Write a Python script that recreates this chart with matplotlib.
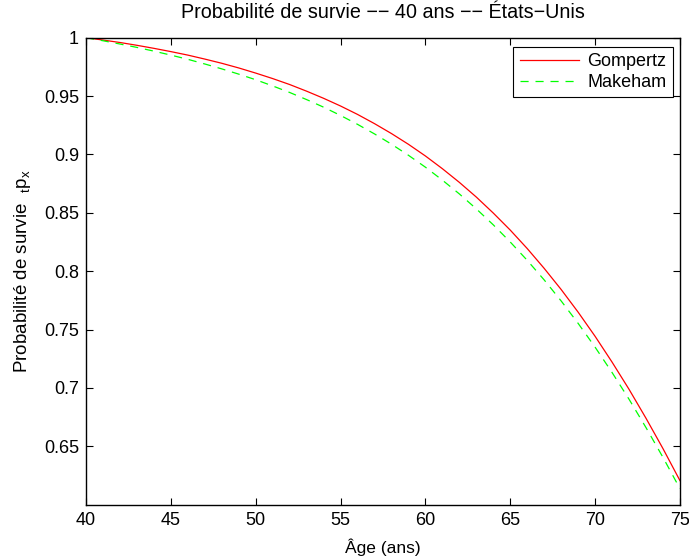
import matplotlib
matplotlib.use("Agg")
import matplotlib.pyplot as plt

ages = list(range(40, 76))
gompertz = [1.0000, 0.9980, 0.9959, 0.9935, 0.9909, 0.9881, 0.9851, 0.9817, 0.9781, 0.9741,
            0.9697, 0.9650, 0.9599, 0.9542, 0.9481, 0.9415, 0.9343, 0.9264, 0.9179, 0.9087,
            0.8987, 0.8878, 0.8761, 0.8635, 0.8498, 0.8352, 0.8194, 0.8024, 0.7843, 0.7649,
            0.7442, 0.7221, 0.6988, 0.6740, 0.6480, 0.6206]
makeham = [1.0000, 0.9974, 0.9946, 0.9917, 0.9885, 0.9851, 0.9815, 0.9775, 0.9733, 0.9688,
           0.9640, 0.9587, 0.9531, 0.9470, 0.9405, 0.9334, 0.9258, 0.9176, 0.9088, 0.8993,
           0.8891, 0.8780, 0.8662, 0.8534, 0.8397, 0.8250, 0.8093, 0.7925, 0.7745, 0.7553,
           0.7349, 0.7132, 0.6903, 0.6660, 0.6405, 0.6137]
xticks = [40, 45, 50, 55, 60, 65, 70, 75]
yticks = [0.65, 0.7, 0.75, 0.8, 0.85, 0.9, 0.95, 1.0]
yticklabels = ["0.65", "0.7", "0.75", "0.8", "0.85", "0.9", "0.95", "1"]

plt.rcParams['font.family'] = ['Liberation Sans', 'DejaVu Sans']
plt.rcParams['mathtext.fontset'] = 'custom'
plt.rcParams['mathtext.rm'] = 'Liberation Sans'
plt.rcParams['mathtext.it'] = 'Liberation Sans'
plt.rcParams['font.size'] = 13

fig = plt.figure(figsize=(6.89, 5.57), dpi=100)
ax = fig.add_axes([0.1248, 0.0939, 0.8621, 0.8384])

ax.plot(ages, gompertz, color='#ff0000', lw=0.9, label='Gompertz')
ax.plot(ages, makeham, color='#00ff00', lw=0.9, ls=(0, (6.5, 5.5)), label='Makeham')

ax.set_xlim(40, 75)
ax.set_ylim(0.6, 1.0)
ax.set_xticks(xticks)
ax.set_yticks(yticks)
ax.set_yticklabels(yticklabels)
ax.tick_params(direction='in', top=True, right=True, length=5, width=0.8, labelsize=13, pad=5)
for s in ax.spines.values():
    s.set_linewidth(1.0)

ax.set_title('Probabilité de survie \u2212\u2212 40 ans \u2212\u2212 États\u2212Unis', fontsize=14.2, pad=14)
ax.set_xlabel('Âge (ans)', fontsize=12.5, labelpad=7)
ax.set_ylabel(r'Probabilité de survie  $_t\mathrm{p}_x$', fontsize=13.5, labelpad=8)

leg = ax.legend(loc='upper right', bbox_to_anchor=(0.9882, 0.9801), borderaxespad=0,
                fontsize=13, fancybox=False, framealpha=1,
                edgecolor='black', handlelength=3.3,
                handletextpad=0.45, borderpad=0.35, labelspacing=0.2)
leg.get_frame().set_linewidth(0.8)

fig.savefig('out.png', dpi=100)
